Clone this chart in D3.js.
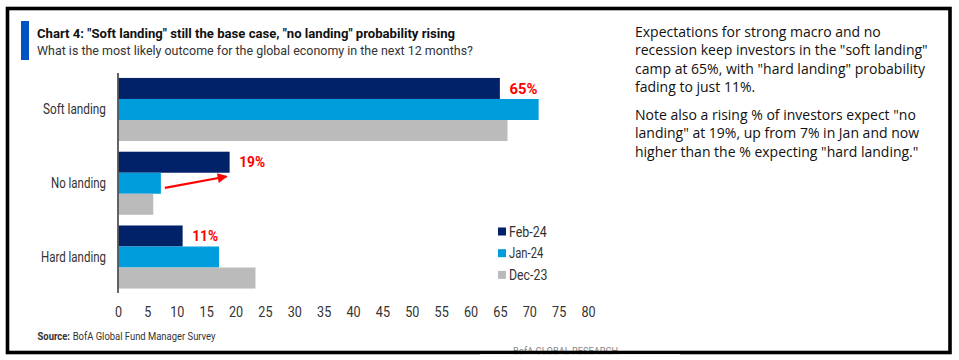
<!DOCTYPE html>
<html><head><meta charset="utf-8">
<script src="https://cdn.jsdelivr.net/npm/d3@7"></script>
<style>
body{margin:0;background:#fff;}
svg{display:block;}
</style></head>
<body>
<svg id="c" width="959" height="360"></svg>
<script>
const categories = ["Soft landing", "No landing", "Hard landing"];
const seriesNames = ["Feb-24", "Jan-24", "Dec-23"];
const feb24 = [65, 19, 11];
const jan24 = [71.6, 7.3, 17.2];
const dec23 = [66.3, 6, 23.4];
const xTicks = [0,5,10,15,20,25,30,35,40,45,50,55,60,65,70,75,80];
const highlightLabels = ["65%", "19%", "11%"];
const colors = ["#012169", "#009ddc", "#bbbbbb"];

const narrow = "'Liberation Sans Narrow', 'Roboto', sans-serif";
const sans = "'Open Sans', 'Noto Sans', sans-serif";

// fit text to a given width to emulate the condensed face of the original
function fitTo(sel, w) {
  sel.attr("textLength", w).attr("lengthAdjust", "spacingAndGlyphs");
}
function squeeze(sel, ratio) {
  sel.each(function() {
    const w = this.getComputedTextLength();
    d3.select(this).attr("textLength", w * ratio).attr("lengthAdjust", "spacingAndGlyphs");
  });
}

const svg = d3.select("#c");
const series = [feb24, jan24, dec23];

const x = d3.scaleLinear().domain([0, 80]).range([118, 588]);
const y = d3.scaleBand().domain(categories).range([72.6, 293.9]).paddingInner(0.145).paddingOuter(0.0725);
const ySub = d3.scaleBand().domain(seriesNames).range([0, y.bandwidth()]);

// Title block
svg.append("rect").attr("x", 21).attr("y", 21).attr("width", 8).attr("height", 39).attr("fill", "#0053c5");
svg.append("text").attr("x", 37).attr("y", 37.5).attr("font-family", narrow).attr("font-weight", "bold")
  .attr("font-size", 13.5).attr("fill", "#111").text('Chart 4: "Soft landing" still the base case, "no landing" probability rising')
  .call(fitTo, 418);
svg.append("text").attr("x", 37).attr("y", 55).attr("font-family", narrow)
  .attr("font-size", 13).attr("fill", "#333").text("What is the most likely outcome for the global economy in the next 12 months?")
  .call(fitTo, 436);

// bars
const g = svg.append("g");
categories.forEach((cat, i) => {
  seriesNames.forEach((s, j) => {
    g.append("rect")
      .attr("x", x(0))
      .attr("y", y(cat) + ySub(s))
      .attr("width", x(series[j][i]) - x(0))
      .attr("height", ySub.bandwidth())
      .attr("fill", colors[j]);
  });
});

// y axis line
svg.append("line").attr("x1", x(0)).attr("x2", x(0)).attr("y1", 73).attr("y2", 293)
  .attr("stroke", "#555").attr("stroke-width", 1.8);

// category labels
const catWidths = [63, 55, 65];
categories.forEach((cat, i) => {
  svg.append("text").attr("x", 106).attr("y", y(cat) + y.bandwidth()/2).attr("dy", "0.35em")
    .attr("text-anchor", "end").attr("font-family", narrow).attr("font-size", 14).attr("fill", "#333").text(cat)
    .call(fitTo, catWidths[i]);
});

// x axis ticks (labels only)
const xAxis = d3.axisBottom(x).tickValues(xTicks).tickSize(0).tickPadding(0);
const ax = svg.append("g").attr("transform", "translate(0,306)").call(xAxis);
ax.select(".domain").remove();
ax.selectAll("text").attr("font-family", narrow).attr("font-size", 15).attr("fill", "#333").attr("dy", "0.71em")
  .call(squeeze, 0.84);

// highlight labels
const hlWidths = [28, 26, 26];
categories.forEach((cat, i) => {
  svg.append("text").attr("x", x(feb24[i]) + 9.5).attr("y", y(cat) + ySub("Feb-24") + ySub.bandwidth()/2).attr("dy", "0.35em")
    .attr("font-family", narrow).attr("font-weight", "bold").attr("font-size", 15).attr("fill", "#ff0000").text(highlightLabels[i])
    .call(fitTo, hlWidths[i]);
});

// arrow from Jan-24 no landing to Feb-24 no landing
const defs = svg.append("defs");
defs.append("marker").attr("id", "ah").attr("viewBox", "0 0 10 10").attr("refX", 9).attr("refY", 5)
  .attr("markerWidth", 5.5).attr("markerHeight", 4.5).attr("markerUnits", "strokeWidth").attr("orient", "auto")
  .append("path").attr("d", "M0,0 L10,5 L0,10 Z").attr("fill", "#ff0000");
const nl = "No landing", idx = categories.indexOf(nl);
svg.append("line")
  .attr("x1", x(jan24[idx]) + 4).attr("y1", y(nl) + ySub("Jan-24") + ySub.bandwidth()*0.72)
  .attr("x2", x(feb24[idx]) - 3).attr("y2", y(nl) + ySub("Jan-24") + ySub.bandwidth()*0.18)
  .attr("stroke", "#ff0000").attr("stroke-width", 2.2).attr("marker-end", "url(#ah)");

// legend
const legWidths = [37.7, 34.3, 38.3];
seriesNames.forEach((s, j) => {
  const ly = 231.5 + j * 21.7;
  svg.append("rect").attr("x", 498).attr("y", ly - 4).attr("width", 8).attr("height", 8).attr("fill", colors[j]);
  svg.append("text").attr("x", 509).attr("y", ly).attr("dy", "0.35em").attr("font-family", narrow)
    .attr("font-size", 15).attr("fill", "#333").text(s).call(fitTo, legWidths[j]);
});

// source (horizontally scaled group so the boxes match what is drawn)
const srcG = svg.append("g").attr("transform", "translate(37.5,340) scale(0.9,1)");
const s1 = srcG.append("text").attr("x", 0).attr("y", 0).attr("font-family", narrow).attr("font-size", 10.5)
  .attr("font-weight", "bold").attr("fill", "#333").text("Source:");
const w1 = s1.node().getComputedTextLength();
srcG.append("text").attr("x", w1 + 3).attr("y", 0).attr("font-family", narrow).attr("font-size", 10.5)
  .attr("fill", "#333").text("BofA Global Fund Manager Survey");

svg.append("text").attr("x", 513).attr("y", 355).attr("font-family", narrow).attr("font-size", 10.5).attr("fill", "#888")
  .text("BofA GLOBAL RESEARCH").call(fitTo, 105);

// right commentary
const para1 = ["Expectations for strong macro and no", "recession keep investors in the \"soft landing\"", "camp at 65%, with \"hard landing\" probability", "fading to just 11%."];
const para2 = ["Note also a rising % of investors expect \"no", "landing\" at 19%, up from 7% in Jan and now", "higher than the % expecting \"hard landing.\""];
para1.forEach((t, i) => svg.append("text").attr("x", 635).attr("y", 37 + i*18.4).attr("font-family", sans).attr("font-size", 14).attr("fill", "#111").text(t));
para2.forEach((t, i) => svg.append("text").attr("x", 635).attr("y", 120 + i*18.4).attr("font-family", sans).attr("font-size", 14).attr("fill", "#111").text(t));

// frame (drawn last, covers bottom text)
svg.append("rect").attr("x", 7.5).attr("y", 8.5).attr("width", 942.5).attr("height", 344).attr("fill", "none")
  .attr("stroke", "#000").attr("stroke-width", 3.6);
svg.append("rect").attr("x", 480).attr("y", 354.3).attr("width", 200).attr("height", 6).attr("fill", "#fff");
</script>
</body></html>
